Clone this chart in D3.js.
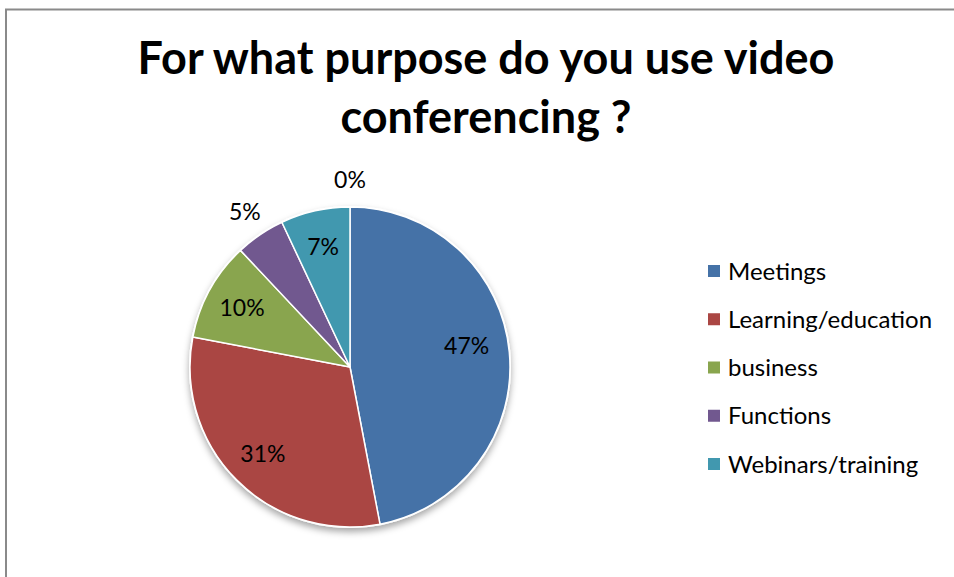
<!DOCTYPE html>
<html>
<head>
<meta charset="utf-8">
<script src="https://cdn.jsdelivr.net/npm/d3@7"></script>
<style>
  html, body { margin: 0; padding: 0; background: #fff; }
  svg { display: block; }
</style>
</head>
<body>
<svg id="chart" width="954" height="577"></svg>
<script>
// Survey answers: share of respondents per purpose (percent)
const categories = ["Meetings", "Learning/education", "business", "Functions", "Webinars/training", ""];
const values = [47, 31, 10, 5, 7, 0];
const colors = ["#4572A7", "#AA4643", "#89A54E", "#71588F", "#4198AF", "#4F81BD"];
const titleLines = ["For what purpose do you use video", "conferencing ?"];

const W = 954, H = 577;
const svg = d3.select("#chart");
const font = "Lato, 'Open Sans', sans-serif";

// chart frame
svg.append("path")
  .attr("d", `M6,${H} L6,9.5 L${W},9.5`)
  .attr("fill", "none")
  .attr("stroke", "#8a8a8a")
  .attr("stroke-width", 2);

// title, sized to span its box
const title = svg.append("g");
const tLine1 = title.append("text")
  .attr("x", 486).attr("y", 74)
  .attr("text-anchor", "middle")
  .attr("font-family", font).attr("font-weight", 700)
  .attr("font-size", 40).attr("fill", "#000")
  .text(titleLines[0]);
const fit = 40 * 697 / tLine1.node().getComputedTextLength();
tLine1.attr("font-size", fit);
title.append("text")
  .attr("x", 486).attr("y", 133)
  .attr("text-anchor", "middle")
  .attr("font-family", font).attr("font-weight", 700)
  .attr("font-size", fit).attr("fill", "#000")
  .text(titleLines[1]);

// pie
const cx = 350, cy = 367, r = 160;
const defs = svg.append("defs");
const f = defs.append("filter").attr("id", "shadow")
  .attr("x", "-20%").attr("y", "-20%").attr("width", "140%").attr("height", "140%");
f.append("feDropShadow")
  .attr("dx", 0).attr("dy", 4).attr("stdDeviation", 3.5)
  .attr("flood-color", "#000").attr("flood-opacity", 0.35);

const data = categories.map((c, i) => ({ name: c, value: values[i], color: colors[i] }));
const pie = d3.pie().value(d => d.value).sort(null);
const arcs = pie(data);
const arc = d3.arc().innerRadius(0).outerRadius(r);

const g = svg.append("g").attr("transform", `translate(${cx},${cy})`);
g.append("circle").attr("r", r + 1).attr("fill", "#fff").attr("filter", "url(#shadow)");
g.selectAll("path.slice")
  .data(arcs.filter(a => a.data.value > 0))
  .join("path")
  .attr("class", "slice")
  .attr("d", arc)
  .attr("fill", d => d.data.color)
  .attr("stroke", "#fff")
  .attr("stroke-width", 1.5)
  .attr("stroke-linejoin", "round");

// data labels: inside for larger slices, outside for the small ones
const inner = d3.arc().innerRadius(r * 0.77).outerRadius(r * 0.77);
const outer = d3.arc().innerRadius(r * 1.17).outerRadius(r * 1.17);
g.selectAll("text.lbl")
  .data(arcs)
  .join("text")
  .attr("class", "lbl")
  .attr("transform", d => {
    const p = (d.data.value < 6 ? outer : inner).centroid(d);
    // the widest slice keeps its label a little above the bisector
    if (d.data.value > 40) { p[0] -= 6; p[1] -= 10; }
    return `translate(${p[0]},${p[1]})`;
  })
  .attr("text-anchor", "middle")
  .attr("dy", "0.36em")
  .attr("font-family", font)
  .attr("font-size", 23)
  .attr("fill", "#000")
  .text(d => d.data.value + "%");

// legend
const legendItems = data.filter(d => d.name !== "");
const ly = d3.scalePoint().domain(legendItems.map(d => d.name)).range([271, 464]);
const lg = svg.append("g");
const row = lg.selectAll("g").data(legendItems).join("g")
  .attr("transform", d => `translate(708,${ly(d.name)})`);
row.append("rect")
  .attr("x", 0).attr("y", -6).attr("width", 12).attr("height", 12)
  .attr("fill", d => d.color);
row.append("text")
  .attr("x", 20).attr("dy", "0.36em")
  .attr("font-family", font).attr("font-size", 24).attr("fill", "#000")
  .text(d => d.name);
</script>
</body>
</html>
